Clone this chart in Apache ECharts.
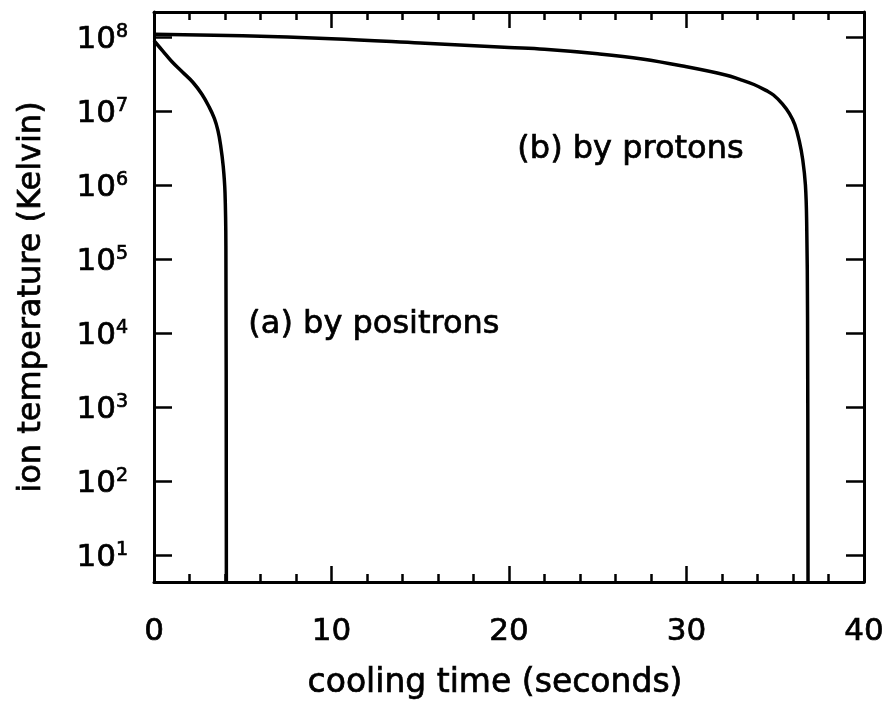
<!DOCTYPE html>
<html>
<head>
<meta charset="utf-8">
<script src="https://cdn.jsdelivr.net/npm/echarts@6/dist/echarts.min.js"></script>
<style>
  html, body { margin: 0; padding: 0; background: #fff; }
  #chart { width: 890px; height: 711px; }
</style>
</head>
<body>
<div id="chart"></div>
<script>
  // x ticks (seconds) and y decades (Kelvin)
  var xTicks = [0, 10, 20, 30, 40];
  var yDecades = [1, 2, 3, 4, 5, 6, 7, 8];

  // (a) cooling by positrons
  var positronTime = [0, 0.5, 1.0, 1.6, 2.2, 2.7, 3.1, 3.4, 3.6, 3.75, 3.9, 4.0, 4.05, 4.08];
  var positronTemp = [9e7, 6.5e7, 4.7e7, 3.4e7, 2.45e7, 1.7e7, 1.15e7, 8e6, 5.5e6, 3.5e6, 1.8e6, 8e5, 1.5e5, 1];

  // (b) cooling by protons
  var protonTime = [0, 5, 10, 15, 20, 22, 25, 27.5, 30, 32.2, 33, 33.8, 34.5, 34.9, 35.4, 35.8, 36.1, 36.35, 36.55, 36.7, 36.77, 36.82, 36.85];
  var protonTemp = [1.1e8, 1.05e8, 9.6e7, 8.4e7, 7.3e7, 6.9e7, 6.0e7, 5.1e7, 4.0e7, 3.1e7, 2.7e7, 2.3e7, 1.9e7, 1.66e7, 1.26e7, 9.3e6, 6.6e6, 4e6, 2.2e6, 1e6, 3.2e5, 1.6e4, 1];

  var labels = ['(a) by positrons', '(b) by protons'];

  function zip(xs, ys) {
    var out = [];
    for (var i = 0; i < xs.length; i++) {
      out.push([xs[i], ys[i]]);
    }
    return out;
  }

  var font = 'DejaVu Sans';
  var ink = '#000';
  // the scan has heavy glyphs, a thin outline thickens the text a little
  var heavy = {textBorderColor: ink, textBorderWidth: 0.7};

  function expLabel(value) {
    var e = Math.log(value) / Math.LN10;
    var r = Math.round(e);
    if (Math.abs(e - r) > 0.01 || yDecades.indexOf(r) < 0) {
      return '';
    }
    return '{b|10}{e|' + r + '}';
  }

  var chart = echarts.init(document.getElementById('chart'), null, {renderer: 'canvas'});

  var xBase = {
    type: 'value',
    min: xTicks[0],
    max: xTicks[xTicks.length - 1],
    interval: 10,
    axisLine: {show: true, onZero: false, lineStyle: {color: ink, width: 3}},
    axisTick: {show: true, inside: true, length: 16, lineStyle: {color: ink, width: 2.5}},
    minorTick: {show: true, splitNumber: 5, length: 8, lineStyle: {color: ink, width: 2.5}},
    splitLine: {show: false},
    minorSplitLine: {show: false}
  };

  var yBase = {
    type: 'log',
    logBase: 10,
    min: 4.3,
    max: 2.2e8,
    axisLine: {show: true, onZero: false, lineStyle: {color: ink, width: 3}},
    axisTick: {show: true, inside: true, length: 18, lineStyle: {color: ink, width: 2.5}},
    splitLine: {show: false}
  };

  var option = {
    backgroundColor: '#fff',
    animation: false,
    grid: {left: 154, right: 26, top: 12, bottom: 129, containLabel: false, outerBoundsMode: 'none'},
    xAxis: [
      Object.assign({}, xBase, {
        position: 'bottom',
        name: 'cooling time (seconds)',
        nameLocation: 'middle',
        nameGap: 85,
        nameTextStyle: Object.assign({fontFamily: font, fontSize: 33, color: ink, padding: [0, 28, 0, 0]}, heavy),
        axisLabel: Object.assign({show: true, margin: 34, fontFamily: font, fontSize: 31, color: ink}, heavy)
      }),
      Object.assign({}, xBase, {
        position: 'top',
        axisLabel: {show: false}
      })
    ],
    yAxis: [
      Object.assign({}, yBase, {
        position: 'left',
        name: 'ion temperature (Kelvin)',
        nameLocation: 'middle',
        nameGap: 106,
        nameTextStyle: Object.assign({fontFamily: font, fontSize: 32, color: ink}, heavy),
        axisLabel: {
          show: true,
          margin: 26,
          showMinLabel: false,
          showMaxLabel: false,
          formatter: expLabel,
          rich: {
            b: Object.assign({fontFamily: font, fontSize: 31, color: ink, padding: [6, 0, 0, 0]}, heavy),
            e: Object.assign({fontFamily: font, fontSize: 19, color: ink, padding: [0, 0, 10, 0]}, heavy)
          }
        }
      }),
      Object.assign({}, yBase, {
        position: 'right',
        axisLabel: {show: false}
      })
    ],
    graphic: [
      {
        type: 'text',
        left: 248,
        top: 308,
        style: {text: labels[0], font: '32px "DejaVu Sans"', fill: ink, stroke: ink, lineWidth: 0.7}
      },
      {
        type: 'text',
        left: 517,
        top: 133,
        style: {text: labels[1], font: '32px "DejaVu Sans"', fill: ink, stroke: ink, lineWidth: 0.7}
      }
    ],
    series: [
      {
        name: labels[0],
        type: 'line',
        xAxisIndex: 0,
        yAxisIndex: 0,
        data: zip(positronTime, positronTemp),
        showSymbol: false,
        smooth: 0.4,
        clip: true,
        lineStyle: {color: ink, width: 3.5}
      },
      {
        name: labels[1],
        type: 'line',
        xAxisIndex: 0,
        yAxisIndex: 0,
        data: zip(protonTime, protonTemp),
        showSymbol: false,
        smooth: 0.4,
        clip: true,
        lineStyle: {color: ink, width: 3.5}
      }
    ]
  };

  chart.setOption(option);
</script>
</body>
</html>
